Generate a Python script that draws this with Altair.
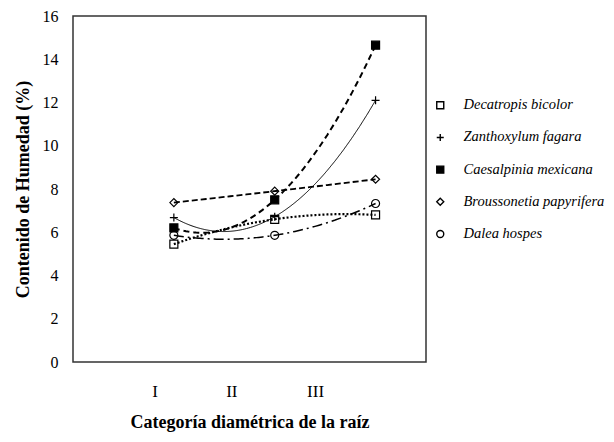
import altair as alt
import pandas as pd

species = ["Decatropis bicolor", "Zanthoxylum fagara", "Caesalpinia mexicana",
           "Broussonetia papyrifera", "Dalea hospes"]
x_pos = [1, 2, 3]
decatropis = [5.45, 6.6, 6.8]
zanthoxylum = [6.68, 6.72, 12.1]
caesalpinia = [6.2, 7.5, 14.65]
broussonetia = [7.37, 7.9, 8.45]
dalea = [5.86, 5.86, 7.33]

tick_pos = [0.81, 1.57, 2.4]
tick_labels = ["I", "II", "III"]
y_ticks = [0, 2, 4, 6, 8, 10, 12, 14, 16]

line_dash = [[2, 2], [1, 0], [6, 4], [6, 3], [10, 4, 2, 4]]
line_width = [2.2, 1, 2, 1.8, 1.5]

rows = []
for name, vals in zip(species, [decatropis, zanthoxylum, caesalpinia, broussonetia, dalea]):
    for x, v in zip(x_pos, vals):
        rows.append({"species": name, "x": x, "value": v})
df = pd.DataFrame(rows)

label_expr = "[" + ",".join("'%s'" % t for t in tick_labels) + "][indexof([" + \
    ",".join(str(p) for p in tick_pos) + "], datum.value)]"

FONT = "Liberation Serif"

x_enc = alt.X("x:Q", scale=alt.Scale(domain=[0, 3.5], nice=False, zero=False),
              axis=alt.Axis(values=tick_pos, labelExpr=label_expr, title="Categoría diamétrica de la raíz",
                            tickSize=0, domain=False, grid=False, labelFont=FONT, labelFontSize=17,
                            labelColor="black", labelPadding=21, titleFont=FONT, titleFontSize=18,
                            titleFontWeight="bold", titleColor="black", titlePadding=14,
                            labelAngle=0))
y_enc = alt.Y("value:Q", scale=alt.Scale(domain=[0, 16], nice=False),
              axis=alt.Axis(values=y_ticks, title="Contenido de Humedad (%)", tickSize=0, domain=False,
                            grid=False, labelFont=FONT, labelFontSize=16, labelColor="black",
                            labelPadding=15, titleFont=FONT, titleFontSize=18, titleFontWeight="bold",
                            titleColor="black", titlePadding=10))

line_layers = []
for name, dash, w in zip(species, line_dash, line_width):
    line_layers.append(
        alt.Chart(df).transform_filter(alt.datum.species == name).transform_regression(
            "x", "value", method="poly", order=2
        ).mark_line(color="black", strokeDash=dash, strokeWidth=w).encode(x=x_enc, y=y_enc)
    )

plus_path = "M-1,0L1,0M0,-1L0,1"
legend = alt.Legend(title=None, orient="none", legendX=360, legendY=82, labelFont=FONT,
                    labelFontStyle="italic")
points = alt.Chart(df).mark_point(filled=False, size=64, strokeWidth=1.2, opacity=1).encode(
    x=x_enc, y=y_enc,
    shape=alt.Shape("species:N", scale=alt.Scale(
        domain=species, range=["square", plus_path, "square", "diamond", "circle"]), legend=legend),
    fill=alt.Fill("species:N", scale=alt.Scale(
        domain=species, range=["transparent", "transparent", "black", "transparent", "transparent"]),
        legend=legend),
    stroke=alt.Stroke("species:N", scale=alt.Scale(
        domain=species, range=["black"] * 5), legend=legend),
)

chart = alt.layer(*line_layers, points).properties(
    width=353, height=346,
    autosize=alt.AutoSizeParams(type="none"),
    padding={"left": 65, "top": 8, "right": 180, "bottom": 72},
).configure(font=FONT).configure_view(stroke="#333", strokeWidth=1.5).configure_legend(
    labelFont=FONT, labelFontStyle="italic", labelFontSize=14.5, labelColor="black",
    labelOffset=16, rowPadding=17.2, symbolSize=49, symbolStrokeWidth=1.4,
)

chart.save("out.html", embed_options={"renderer": "svg", "actions": False})
